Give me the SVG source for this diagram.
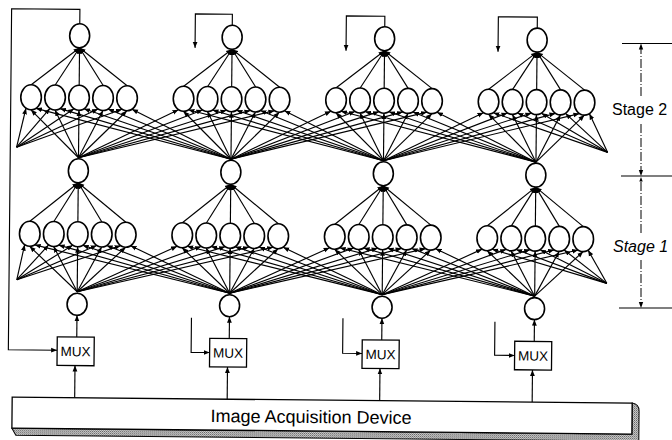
<svg xmlns="http://www.w3.org/2000/svg" width="672" height="440" viewBox="0 0 672 440">
<style>
.c{stroke:#000;stroke-width:1.15;fill:none;marker-end:url(#ah)}
.l{stroke:#000;stroke-width:1.1;fill:none}
.n{fill:#fff;stroke:#000;stroke-width:1.6}
.box{fill:#fff;stroke:#000;stroke-width:1.3}
.t{font-family:"Liberation Sans",Arial,sans-serif;fill:#000}
.dash{stroke:#000;stroke-width:1;fill:none;stroke-dasharray:9 2 1 2}
</style>
<defs>
<marker id="ah" viewBox="0 0 10 10" refX="10" refY="5" markerWidth="6" markerHeight="6" orient="auto" markerUnits="userSpaceOnUse"><path d="M0,1 L10,5 L0,9 z" fill="#000"/></marker>
<pattern id="dots" width="2" height="2" patternUnits="userSpaceOnUse"><rect width="2" height="2" fill="#d8d8d8"/><rect width="1" height="1" fill="#555"/><rect x="1" y="1" width="1" height="1" fill="#888"/></pattern>
<g id="s2own"><line class="c" x1="0" y1="157" x2="-48" y2="109.5"/><line class="c" x1="0" y1="157" x2="-24" y2="109.5"/><line class="c" x1="0" y1="157" x2="0" y2="109.5"/><line class="c" x1="0" y1="157" x2="24" y2="109.5"/><line class="c" x1="0" y1="157" x2="48" y2="109.5"/></g>
<g id="s2right"><line class="c" x1="0" y1="157" x2="99.5" y2="108"/><line class="c" x1="0" y1="157" x2="123.5" y2="108"/><line class="c" x1="0" y1="157" x2="147.5" y2="108"/><line class="c" x1="0" y1="157" x2="171.5" y2="108"/><line class="c" x1="0" y1="157" x2="195.5" y2="108"/></g>
<g id="s2left"><line class="c" x1="0" y1="157" x2="-195.5" y2="108"/><line class="c" x1="0" y1="157" x2="-171.5" y2="108"/><line class="c" x1="0" y1="157" x2="-147.5" y2="108"/><line class="c" x1="0" y1="157" x2="-123.5" y2="108"/><line class="c" x1="0" y1="157" x2="-99.5" y2="108"/></g>
<g id="s2top"><line class="c" x1="-48" y1="84.5" x2="0" y2="47"/><line class="c" x1="-24" y1="84.5" x2="0" y2="47"/><line class="c" x1="0" y1="84.5" x2="0" y2="47"/><line class="c" x1="24" y1="84.5" x2="0" y2="47"/><line class="c" x1="48" y1="84.5" x2="0" y2="47"/></g>
<g id="s1own"><line class="c" x1="0" y1="291" x2="-48" y2="246"/><line class="c" x1="0" y1="291" x2="-24" y2="246"/><line class="c" x1="0" y1="291" x2="0" y2="246"/><line class="c" x1="0" y1="291" x2="24" y2="246"/><line class="c" x1="0" y1="291" x2="48" y2="246"/></g>
<g id="s1right"><line class="c" x1="0" y1="291" x2="99.5" y2="244.5"/><line class="c" x1="0" y1="291" x2="123.5" y2="244.5"/><line class="c" x1="0" y1="291" x2="147.5" y2="244.5"/><line class="c" x1="0" y1="291" x2="171.5" y2="244.5"/><line class="c" x1="0" y1="291" x2="195.5" y2="244.5"/></g>
<g id="s1left"><line class="c" x1="0" y1="291" x2="-195.5" y2="244.5"/><line class="c" x1="0" y1="291" x2="-171.5" y2="244.5"/><line class="c" x1="0" y1="291" x2="-147.5" y2="244.5"/><line class="c" x1="0" y1="291" x2="-123.5" y2="244.5"/><line class="c" x1="0" y1="291" x2="-99.5" y2="244.5"/></g>
<g id="s1top"><line class="c" x1="-48" y1="221" x2="0" y2="182"/><line class="c" x1="-24" y1="221" x2="0" y2="182"/><line class="c" x1="0" y1="221" x2="0" y2="182"/><line class="c" x1="24" y1="221" x2="0" y2="182"/><line class="c" x1="48" y1="221" x2="0" y2="182"/></g>
</defs>
<rect width="672" height="440" fill="#fff"/>
<g id="main" transform="rotate(0.55)">
<g id="connectors">
<use href="#s2own" transform="translate(80,0)"/><use href="#s2own" transform="translate(232.5,0)"/><use href="#s2own" transform="translate(385,0)"/><use href="#s2own" transform="translate(537.5,0)"/>
<use href="#s2right" transform="translate(80,0)"/><use href="#s2right" transform="translate(232.5,0)"/><use href="#s2right" transform="translate(385,0)"/>
<use href="#s2left" transform="translate(232.5,0)"/><use href="#s2left" transform="translate(385,0)"/><use href="#s2left" transform="translate(537.5,0)"/>
<use href="#s2top" transform="translate(80,0)"/><use href="#s2top" transform="translate(232.5,0)"/><use href="#s2top" transform="translate(385,0)"/><use href="#s2top" transform="translate(537.5,0)"/>
<use href="#s1own" transform="translate(80,0)"/><use href="#s1own" transform="translate(232.5,0)"/><use href="#s1own" transform="translate(385,0)"/><use href="#s1own" transform="translate(537.5,0)"/>
<use href="#s1right" transform="translate(80,0)"/><use href="#s1right" transform="translate(232.5,0)"/><use href="#s1right" transform="translate(385,0)"/>
<use href="#s1left" transform="translate(232.5,0)"/><use href="#s1left" transform="translate(385,0)"/><use href="#s1left" transform="translate(537.5,0)"/>
<use href="#s1top" transform="translate(80,0)"/><use href="#s1top" transform="translate(232.5,0)"/><use href="#s1top" transform="translate(385,0)"/><use href="#s1top" transform="translate(537.5,0)"/>
<line class="c" x1="18" y1="147" x2="27" y2="108"/><line class="c" x1="18" y1="147" x2="51" y2="108"/><line class="c" x1="18" y1="147" x2="75" y2="108"/><line class="c" x1="18" y1="147" x2="99" y2="108"/><line class="c" x1="18" y1="147" x2="123" y2="108"/>
<line class="c" x1="609" y1="146.5" x2="494.5" y2="108"/><line class="c" x1="609" y1="146.5" x2="518.5" y2="108"/><line class="c" x1="609" y1="146.5" x2="542.5" y2="108"/><line class="c" x1="609" y1="146.5" x2="566.5" y2="108"/><line class="c" x1="609" y1="146.5" x2="590.5" y2="108"/>
<line class="c" x1="19.5" y1="279.5" x2="27" y2="244.5"/><line class="c" x1="19.5" y1="279.5" x2="51" y2="244.5"/><line class="c" x1="19.5" y1="279.5" x2="75" y2="244.5"/><line class="c" x1="19.5" y1="279.5" x2="99" y2="244.5"/><line class="c" x1="19.5" y1="279.5" x2="123" y2="244.5"/>
<line class="c" x1="609.5" y1="277.5" x2="494.5" y2="244.5"/><line class="c" x1="609.5" y1="277.5" x2="518.5" y2="244.5"/><line class="c" x1="609.5" y1="277.5" x2="542.5" y2="244.5"/><line class="c" x1="609.5" y1="277.5" x2="566.5" y2="244.5"/><line class="c" x1="609.5" y1="277.5" x2="590.5" y2="244.5"/>
<path class="c" d="M80,23 V8.6 H11.7 V349.7 H60.5"/>
<path class="c" d="M232.5,23 V12 H195.5 V46"/>
<path class="c" d="M194.5,316 V350.5 H213"/>
<path class="c" d="M385,23 V12.5 H346.5 V47.5"/>
<path class="c" d="M346,315 V350 H365.5"/>
<path class="c" d="M537.5,23 V12 H498.5 V47"/>
<path class="c" d="M498,317 V350.5 H518"/>
<line class="c" x1="80" y1="336.3" x2="80" y2="314.5"/><line class="c" x1="232.5" y1="336.3" x2="232.5" y2="314.5"/><line class="c" x1="385" y1="336.3" x2="385" y2="314.5"/><line class="c" x1="537.5" y1="336.3" x2="537.5" y2="314.5"/>
<line class="c" x1="78.5" y1="397" x2="78.5" y2="364.8"/><line class="c" x1="231" y1="397" x2="231" y2="364.8"/><line class="c" x1="383.5" y1="397" x2="383.5" y2="364.8"/><line class="c" x1="536" y1="397" x2="536" y2="364.8"/>
</g>
<g id="col1">
<g id="n1_top"><ellipse class="n" cx="80" cy="35" rx="10" ry="12"/></g>
<g id="n1_h2a"><ellipse class="n" cx="32" cy="97" rx="10.3" ry="12.5"/></g>
<g id="n1_h2b"><ellipse class="n" cx="56" cy="97" rx="10.3" ry="12.5"/></g>
<g id="n1_h2c"><ellipse class="n" cx="80" cy="97" rx="10.3" ry="12.5"/></g>
<g id="n1_h2d"><ellipse class="n" cx="104" cy="97" rx="10.3" ry="12.5"/></g>
<g id="n1_h2e"><ellipse class="n" cx="128" cy="97" rx="10.3" ry="12.5"/></g>
<g id="n1_mid"><ellipse class="n" cx="80" cy="170" rx="10" ry="12"/></g>
<g id="n1_h1a"><ellipse class="n" cx="32" cy="233.5" rx="10.3" ry="12.5"/></g>
<g id="n1_h1b"><ellipse class="n" cx="56" cy="233.5" rx="10.3" ry="12.5"/></g>
<g id="n1_h1c"><ellipse class="n" cx="80" cy="233.5" rx="10.3" ry="12.5"/></g>
<g id="n1_h1d"><ellipse class="n" cx="104" cy="233.5" rx="10.3" ry="12.5"/></g>
<g id="n1_h1e"><ellipse class="n" cx="128" cy="233.5" rx="10.3" ry="12.5"/></g>
<g id="n1_in"><ellipse class="n" cx="80" cy="303.5" rx="10" ry="11"/></g>
<g id="n1_mux"><rect class="box" x="60.5" y="336.3" width="37" height="28.5"/><text class="t" x="79" y="355.5" font-size="13.5" text-anchor="middle">MUX</text></g>
</g>
<g id="col2">
<g id="n2_top"><ellipse class="n" cx="232.5" cy="35" rx="10" ry="12"/></g>
<g id="n2_h2a"><ellipse class="n" cx="184.5" cy="97" rx="10.3" ry="12.5"/></g>
<g id="n2_h2b"><ellipse class="n" cx="208.5" cy="97" rx="10.3" ry="12.5"/></g>
<g id="n2_h2c"><ellipse class="n" cx="232.5" cy="97" rx="10.3" ry="12.5"/></g>
<g id="n2_h2d"><ellipse class="n" cx="256.5" cy="97" rx="10.3" ry="12.5"/></g>
<g id="n2_h2e"><ellipse class="n" cx="280.5" cy="97" rx="10.3" ry="12.5"/></g>
<g id="n2_mid"><ellipse class="n" cx="232.5" cy="170" rx="10" ry="12"/></g>
<g id="n2_h1a"><ellipse class="n" cx="184.5" cy="233.5" rx="10.3" ry="12.5"/></g>
<g id="n2_h1b"><ellipse class="n" cx="208.5" cy="233.5" rx="10.3" ry="12.5"/></g>
<g id="n2_h1c"><ellipse class="n" cx="232.5" cy="233.5" rx="10.3" ry="12.5"/></g>
<g id="n2_h1d"><ellipse class="n" cx="256.5" cy="233.5" rx="10.3" ry="12.5"/></g>
<g id="n2_h1e"><ellipse class="n" cx="280.5" cy="233.5" rx="10.3" ry="12.5"/></g>
<g id="n2_in"><ellipse class="n" cx="232.5" cy="303.5" rx="10" ry="11"/></g>
<g id="n2_mux"><rect class="box" x="213" y="336.3" width="37" height="28.5"/><text class="t" x="231.5" y="355.5" font-size="13.5" text-anchor="middle">MUX</text></g>
</g>
<g id="col3">
<g id="n3_top"><ellipse class="n" cx="385" cy="35" rx="10" ry="12"/></g>
<g id="n3_h2a"><ellipse class="n" cx="337" cy="97" rx="10.3" ry="12.5"/></g>
<g id="n3_h2b"><ellipse class="n" cx="361" cy="97" rx="10.3" ry="12.5"/></g>
<g id="n3_h2c"><ellipse class="n" cx="385" cy="97" rx="10.3" ry="12.5"/></g>
<g id="n3_h2d"><ellipse class="n" cx="409" cy="97" rx="10.3" ry="12.5"/></g>
<g id="n3_h2e"><ellipse class="n" cx="433" cy="97" rx="10.3" ry="12.5"/></g>
<g id="n3_mid"><ellipse class="n" cx="385" cy="170" rx="10" ry="12"/></g>
<g id="n3_h1a"><ellipse class="n" cx="337" cy="233.5" rx="10.3" ry="12.5"/></g>
<g id="n3_h1b"><ellipse class="n" cx="361" cy="233.5" rx="10.3" ry="12.5"/></g>
<g id="n3_h1c"><ellipse class="n" cx="385" cy="233.5" rx="10.3" ry="12.5"/></g>
<g id="n3_h1d"><ellipse class="n" cx="409" cy="233.5" rx="10.3" ry="12.5"/></g>
<g id="n3_h1e"><ellipse class="n" cx="433" cy="233.5" rx="10.3" ry="12.5"/></g>
<g id="n3_in"><ellipse class="n" cx="385" cy="303.5" rx="10" ry="11"/></g>
<g id="n3_mux"><rect class="box" x="365.5" y="336.3" width="37" height="28.5"/><text class="t" x="384" y="355.5" font-size="13.5" text-anchor="middle">MUX</text></g>
</g>
<g id="col4">
<g id="n4_top"><ellipse class="n" cx="537.5" cy="35" rx="10" ry="12"/></g>
<g id="n4_h2a"><ellipse class="n" cx="489.5" cy="97" rx="10.3" ry="12.5"/></g>
<g id="n4_h2b"><ellipse class="n" cx="513.5" cy="97" rx="10.3" ry="12.5"/></g>
<g id="n4_h2c"><ellipse class="n" cx="537.5" cy="97" rx="10.3" ry="12.5"/></g>
<g id="n4_h2d"><ellipse class="n" cx="561.5" cy="97" rx="10.3" ry="12.5"/></g>
<g id="n4_h2e"><ellipse class="n" cx="585.5" cy="97" rx="10.3" ry="12.5"/></g>
<g id="n4_mid"><ellipse class="n" cx="537.5" cy="170" rx="10" ry="12"/></g>
<g id="n4_h1a"><ellipse class="n" cx="489.5" cy="233.5" rx="10.3" ry="12.5"/></g>
<g id="n4_h1b"><ellipse class="n" cx="513.5" cy="233.5" rx="10.3" ry="12.5"/></g>
<g id="n4_h1c"><ellipse class="n" cx="537.5" cy="233.5" rx="10.3" ry="12.5"/></g>
<g id="n4_h1d"><ellipse class="n" cx="561.5" cy="233.5" rx="10.3" ry="12.5"/></g>
<g id="n4_h1e"><ellipse class="n" cx="585.5" cy="233.5" rx="10.3" ry="12.5"/></g>
<g id="n4_in"><ellipse class="n" cx="537.5" cy="303.5" rx="10" ry="11"/></g>
<g id="n4_mux"><rect class="box" x="518" y="336.3" width="37" height="28.5"/><text class="t" x="536.5" y="355.5" font-size="13.5" text-anchor="middle">MUX</text></g>
</g>
<g id="device">
<path d="M16,428 L636,428 L636,397 Q643,398 643,405 L643,435 L20,435 Z" fill="url(#dots)" stroke="#000" stroke-width="1"/>
<rect class="box" x="16" y="397" width="620" height="31"/>
<text class="t" x="315" y="420" font-size="18" text-anchor="middle">Image Acquisition Device</text>
</g>
</g>
<g id="stages">
<line class="l" x1="622" y1="43.5" x2="672" y2="43.5"/>
<line class="l" x1="621" y1="176" x2="672" y2="176"/>
<line class="l" x1="619" y1="308" x2="672" y2="308"/>
<line class="dash" x1="641" y1="96" x2="641" y2="49"/>
<path d="M641,43.5 L638.8,49.5 L643.2,49.5 Z" fill="#000"/>
<line class="dash" x1="641" y1="124" x2="641" y2="170"/>
<path d="M641,176 L638.8,170 L643.2,170 Z" fill="#000"/>
<line class="dash" x1="641" y1="233" x2="641" y2="181"/>
<path d="M641,177 L639.3,181.5 L642.7,181.5 Z" fill="#000"/>
<line class="dash" x1="641" y1="260" x2="641" y2="302"/>
<path d="M641,308 L638.8,302 L643.2,302 Z" fill="#000"/>
<text class="t" x="612" y="115" font-size="16">Stage 2</text>
<text class="t" x="613" y="252" font-size="16" font-style="italic">Stage 1</text>
</g>
</svg>
